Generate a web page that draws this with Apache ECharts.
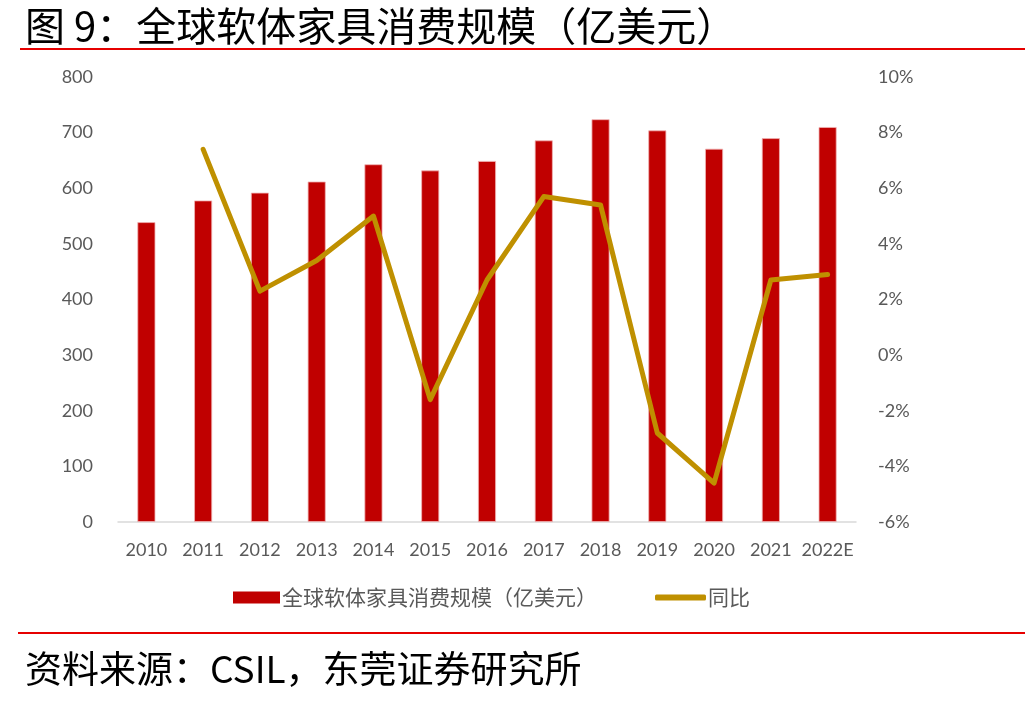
<!DOCTYPE html>
<html>
<head>
<meta charset="utf-8">
<title>全球软体家具消费规模</title>
<script src="https://cdn.jsdelivr.net/npm/echarts@6/dist/echarts.min.js"></script>
<style>
    html, body { margin: 0; padding: 0; background: #fff; }
    #main { width: 1025px; height: 701px; }
</style>
</head>
<body>
<div id="main"></div>
<script>
var years = ['2010','2011','2012','2013','2014','2015','2016','2017','2018','2019','2020','2021','2022E'];
// 全球软体家具消费规模（亿美元）
var scale = [539, 578, 592, 612, 643, 632, 649, 686, 724, 704, 671, 690, 710];
// 同比 (%)
var yoy = [null, 7.4, 2.3, 3.4, 5.0, -1.6, 2.7, 5.7, 5.4, -2.8, -4.6, 2.7, 2.9];

var leftTicks = { min: 0, max: 800, interval: 100 };
var rightTicks = { min: -6, max: 10, interval: 2 };

var labelFont = 'Lato, "Noto Sans CJK SC", sans-serif';
var cjkFont = '"Noto Sans CJK SC", sans-serif';

var myChart = echarts.init(document.getElementById('main'));
var option = {
    animation: false,
    backgroundColor: '#ffffff',
    title: [
        {
            text: '图 9：全球软体家具消费规模（亿美元）',
            left: 20, top: 1,
            textStyle: { fontFamily: cjkFont, fontSize: 40, fontWeight: 'normal', color: '#000' }
        },
        {
            text: '资料来源：CSIL，东莞证券研究所',
            left: 20, top: 645,
            textStyle: { fontFamily: cjkFont, fontSize: 37, fontWeight: 'normal', color: '#000' }
        }
    ],
    graphic: [
        { type: 'rect', shape: { x: 20, y: 48, width: 1005, height: 2 }, style: { fill: '#e60000' } },
        { type: 'rect', shape: { x: 18, y: 632, width: 1007, height: 2 }, style: { fill: '#e60000' } }
    ],
    legend: [
        {
            data: ['全球软体家具消费规模（亿美元）'],
            left: 228, top: 582,
            icon: 'rect', itemWidth: 47, itemHeight: 12, itemGap: 4,
            itemStyle: { borderWidth: 0 },
            textStyle: { fontFamily: cjkFont, fontSize: 21, color: '#595959', padding: [0, 0, 0, -3] }
        },
        {
            data: ['同比'],
            left: 650, top: 582,
            icon: 'roundRect', itemWidth: 51, itemHeight: 6,
            textStyle: { fontFamily: cjkFont, fontSize: 21, color: '#595959', padding: [0, 0, 0, -3] }
        }
    ],
    grid: { left: 118, right: 169, top: 77, bottom: 179 },
    xAxis: {
        type: 'category',
        data: years,
        axisLine: { lineStyle: { color: '#d9d9d9', width: 1.5 } },
        axisTick: { show: false },
        axisLabel: { color: '#595959', fontSize: 18, fontFamily: labelFont, margin: 19, interval: 0 }
    },
    yAxis: [
        {
            type: 'value',
            min: leftTicks.min, max: leftTicks.max, interval: leftTicks.interval,
            splitLine: { show: false },
            axisLine: { show: false },
            axisTick: { show: false },
            axisLabel: { color: '#595959', fontSize: 18, fontFamily: labelFont, margin: 25 }
        },
        {
            type: 'value',
            min: rightTicks.min, max: rightTicks.max, interval: rightTicks.interval,
            splitLine: { show: false },
            axisLine: { show: false },
            axisTick: { show: false },
            axisLabel: { color: '#595959', fontSize: 18, fontFamily: labelFont, margin: 22, formatter: '{value}%' }
        }
    ],
    series: [
        {
            name: '全球软体家具消费规模（亿美元）',
            type: 'bar',
            data: scale,
            barWidth: 18,
            itemStyle: { color: '#c00000', borderColor: '#f0b4b4', borderWidth: 0.8 }
        },
        {
            name: '同比',
            type: 'line',
            yAxisIndex: 1,
            data: yoy,
            symbol: 'none',
            itemStyle: { color: '#bf9000' },
            lineStyle: { color: '#bf9000', width: 5, cap: 'round', join: 'round' }
        }
    ]
};
myChart.setOption(option);
</script>
</body>
</html>
